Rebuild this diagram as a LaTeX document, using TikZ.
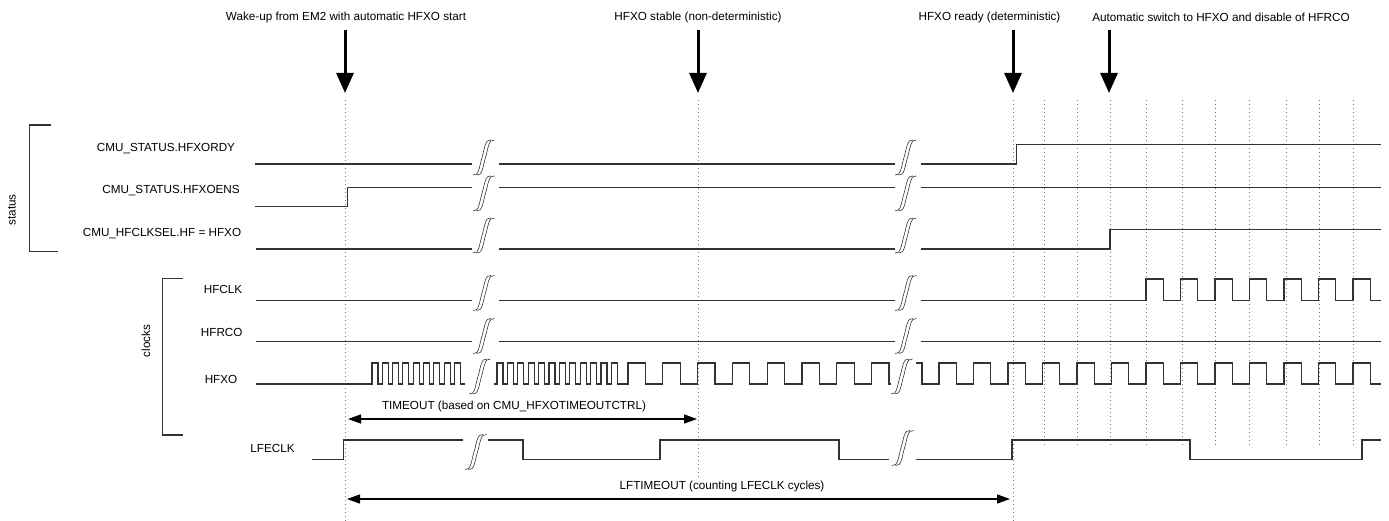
\documentclass[tikz,border=0pt]{standalone}
\usepackage{fontspec}
\setmainfont{Liberation Sans}
\usetikzlibrary{arrows.meta}
\tikzset{
  brkpic/.pic={
    \draw[line width=0.6pt, black!80] (-9,17.5) .. controls (-3,19) and (-2.5,8) .. (0,0) .. controls (2.5,-8) and (3,-19) .. (9,-17.5);
    \draw[line width=0.6pt, black!80] (-5.5,17.5) .. controls (0.5,19) and (1,8) .. (3.5,0) .. controls (6,-8) and (6.5,-19) .. (12.5,-17.5);
  }
}
\begin{document}
\begin{tikzpicture}[x=1pt,y=-1pt,
  sig/.style={line width=1.1pt, black!80, line join=miter},
  lbl/.style={font=\fontsize{11.7}{14}\selectfont, inner sep=0pt},
  dotline/.style={black!55, line width=0.9pt, dash pattern=on 1pt off 3pt},
  bigarrow/.style={line width=3pt, -{Triangle[length=20pt,width=17pt]}},
  spanarrow/.style={line width=1.3pt, {Triangle[length=13pt,width=9pt]}-{Triangle[length=13pt,width=9pt]}},
  bracket/.style={line width=1.1pt, black!80}
]
\useasboundingbox (0,0) rectangle (1389,521);

% dotted guide lines
\draw[dotline] (345,100) -- (345,521);
\draw[dotline] (698,100) -- (698,477);
\draw[dotline] (1013,100) -- (1013,521);
\foreach \x in {1044,1077,1110,1146,1182,1215,1249,1286,1319,1353}
  \draw[dotline] (\x,100) -- (\x,448);

% top labels and arrows
\node[lbl] (t1) at (346,17) {Wake-up from EM2 with automatic HFXO start};
\node[lbl] (t2) at (698,17) {HFXO stable (non-deterministic)};
\node[lbl] (t3) at (989.5,17) {HFXO ready (deterministic)};
\node[lbl] (t4) at (1221,17) {Automatic switch to HFXO and disable of HFRCO};
\coordinate (a1s) at (345,30); \coordinate (a1e) at (345,93);
\coordinate (a2s) at (698,30); \coordinate (a2e) at (698,93);
\coordinate (a3s) at (1013,30); \coordinate (a3e) at (1013,93);
\coordinate (a4s) at (1109,30); \coordinate (a4e) at (1109,93);
\draw[bigarrow] (a1s) -- (a1e);
\draw[bigarrow] (a2s) -- (a2e);
\draw[bigarrow] (a3s) -- (a3e);
\draw[bigarrow] (a4s) -- (a4e);

% brackets
\draw[bracket] (50.7,125) -- (29.3,125) -- (29.3,251.7) -- (57.7,251.7);
\node[lbl, rotate=90] (gstatus) at (12,210) {status};
\draw[bracket] (183,278.3) -- (162.7,278.3) -- (162.7,435) -- (183,435);
\node[lbl, rotate=90] (gclocks) at (146,341) {clocks};

% signal labels
\node[lbl] (lrdy) at (166,149) {CMU\_STATUS.HFXORDY};
\node[lbl] (lens) at (171,190.7) {CMU\_STATUS.HFXOENS};
\node[lbl] (lsel) at (162,234) {CMU\_HFCLKSEL.HF = HFXO};
\node[lbl] (lhfclk) at (223,289) {HFCLK};
\node[lbl] (lhfrco) at (221.7,332.7) {HFRCO};
\node[lbl] (lhfxo) at (221,379.3) {HFXO};
\node[lbl] (llfe) at (272.5,448) {LFECLK};

% CMU_STATUS.HFXORDY
\draw[sig] (255,164) -- (472,164);
\draw[sig] (499,164) -- (895,164);
\draw[sig] (921,164) -- (1016.5,164) -- (1016.5,144.3) -- (1381,144.3);
\pic at (482,157.5) {brkpic};
\pic at (904,157.5) {brkpic};

% CMU_STATUS.HFXOENS
\draw[sig] (255,206.7) -- (347.7,206.7) -- (347.7,187.3) -- (472,187.3);
\draw[sig] (499,187.3) -- (895,187.3);
\draw[sig] (921,187.3) -- (1381,187.3);
\pic at (482,193.4) {brkpic};
\pic at (904,193.4) {brkpic};

% CMU_HFCLKSEL.HF
\draw[sig] (256,249) -- (472,249);
\draw[sig] (499,249) -- (895,249);
\draw[sig] (921,249) -- (1110,249) -- (1110,229.7) -- (1381,229.7);
\pic at (482,235.5) {brkpic};
\pic at (904,235.5) {brkpic};

% HFCLK
\draw[sig] (256,300.7) -- (472,300.7);
\draw[sig] (499,300.7) -- (895,300.7);
\draw[sig] (921,300.7) -- (1146,300.7)
  \foreach \i in {1,...,6}{ -- ++(0,-21.7) -- ++(17.25,0) -- ++(0,21.7) -- ++(17.25,0)}
  -- ++(0,-21.7) -- ++(17.25,0) -- ++(0,21.7) -- (1381,300.7);
\pic at (482,293) {brkpic};
\pic at (904,293) {brkpic};

% HFRCO
\draw[sig] (256,341.7) -- (472,341.7);
\draw[sig] (499,341.7) -- (895,341.7);
\draw[sig] (921,341.7) -- (1381,341.7);
\pic at (482,336) {brkpic};
\pic at (904,336) {brkpic};

% HFXO
\draw[sig] (256,384) -- (372,384)
  \foreach \i in {1,...,9}{ -- ++(0,-21) -- ++(6,0) -- ++(0,21) -- ++(4.3,0)};
\draw[sig] (494,384) -- (497,384)
  \foreach \i in {1,...,12}{ -- ++(0,-21) -- ++(6,0) -- ++(0,21) -- ++(4.4,0)}
  -- (628,384)
  \foreach \i in {1,...,7}{ -- ++(0,-21) -- ++(17.4,0) -- ++(0,21) -- ++(17.4,0)}
  -- ++(0,-21) -- ++(17.4,0) -- ++(0,21) -- ++(1.5,0);
\draw[sig] (916,363) -- (922,363) -- (922,384) -- (939,384)
  \foreach \i in {1,...,12}{ -- ++(0,-21) -- ++(17.25,0) -- ++(0,21) -- ++(17.25,0)}
  -- ++(0,-21) -- ++(17.25,0) -- ++(0,21) -- (1381,384);
\pic at (478,376.5) {brkpic};
\pic at (900,376.5) {brkpic};

% TIMEOUT
\coordinate (to1) at (348,419); \coordinate (to2) at (697,419);
\draw[spanarrow] (to1) -- (to2);
\node[lbl] (totext) at (514,406.7) {TIMEOUT (based on CMU\_HFXOTIMEOUTCTRL)};

% LFECLK
\draw[sig] (312,459.3) -- (343.5,459.3) -- (343.5,440) -- (463,440);
\draw[sig] (488,440) -- (523,440) -- (523,459.3) -- (660,459.3) -- (660,440) -- (839,440) -- (839,459.3) -- (889,459.3);
\draw[sig] (916,459.3) -- (1012,459.3) -- (1012,440) -- (1190,440) -- (1190,459.3) -- (1362,459.3) -- (1362,440) -- (1381,440);
\pic at (474,452) {brkpic};
\pic at (901,448) {brkpic};

% LFTIMEOUT
\coordinate (lt1) at (347,499); \coordinate (lt2) at (1010,499);
\draw[spanarrow] (lt1) -- (lt2);
\node[lbl] (lttext) at (722,486) {LFTIMEOUT (counting LFECLK cycles)};
\end{tikzpicture}
\end{document}
